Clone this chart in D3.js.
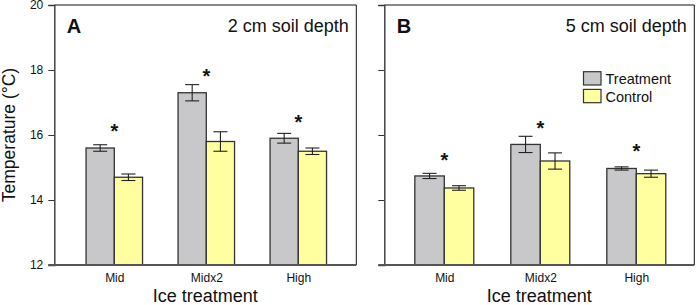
<!DOCTYPE html>
<html><head><meta charset="utf-8">
<script src="https://cdn.jsdelivr.net/npm/d3@7"></script>
<style>body{margin:0;background:#fff}svg{display:block;font-family:Arial,"Liberation Sans",sans-serif}</style>
</head><body><svg id="c" width="700" height="305"></svg>
<script>
const categories = ["Mid", "Midx2", "High"];
const series = ["Treatment", "Control"];
const yTicks = [12, 14, 16, 18, 20];
// Panel A: 2 cm soil depth
const treatA = [15.6, 17.3, 15.9];
const treatErrA = [0.1, 0.25, 0.15];
const ctrlA = [14.7, 15.8, 15.5];
const ctrlErrA = [0.1, 0.3, 0.1];
const starA = [16.27, 17.97, 16.56];
// Panel B: 5 cm soil depth
const treatB = [14.74, 15.71, 14.97];
const treatErrB = [0.08, 0.25, 0.05];
const ctrlB = [14.37, 15.2, 14.81];
const ctrlErrB = [0.07, 0.25, 0.11];
const starB = [15.38, 16.36, 15.66];

const colors = {Treatment: "#c8c8cb", Control: "#ffffa0"};
const svg = d3.select("#c");
const plotTop = 5, plotBottom = 265;
const y = d3.scaleLinear().domain([12, 20]).range([plotBottom, plotTop]);

function panel(opts) {
  const {left, right, letter, title, t, te, c, ce, stars, showLabels, legend} = opts;
  const g = svg.append("g");
  const x = d3.scalePoint().domain(categories).range([left + 60, right - 58]);
  const bw = 0.307 * x.step();
  const rows = categories.map((cat, i) => ({cat, vals: [
    {s: "Treatment", v: t[i], e: te[i]},
    {s: "Control", v: c[i], e: ce[i]}]}));
  g.append("line").attr("x1", left).attr("x2", right).attr("y1", plotTop).attr("y2", plotTop).attr("stroke", "#111").attr("stroke-width", 1);
  g.append("line").attr("x1", right).attr("x2", right).attr("y1", plotTop).attr("y2", plotBottom).attr("stroke", "#111").attr("stroke-width", 1);
  rows.forEach(r => {
    r.vals.forEach((d, j) => {
      const x0 = x(r.cat) + (j === 0 ? -bw : 0);
      g.append("rect").attr("x", x0).attr("y", y(d.v)).attr("width", bw).attr("height", y(12) - y(d.v))
        .attr("fill", colors[d.s]).attr("stroke", "#333").attr("stroke-width", 1.3);
      const cx = x0 + bw / 2;
      const eg = g.append("g").attr("stroke", "#222").attr("stroke-width", 1.1);
      eg.append("line").attr("x1", cx).attr("x2", cx).attr("y1", y(d.v + d.e)).attr("y2", y(d.v - d.e));
      eg.append("line").attr("x1", cx - 7).attr("x2", cx + 7).attr("y1", y(d.v + d.e)).attr("y2", y(d.v + d.e));
      eg.append("line").attr("x1", cx - 7).attr("x2", cx + 7).attr("y1", y(d.v - d.e)).attr("y2", y(d.v - d.e));
    });
  });
  categories.forEach((cat, i) => {
    g.append("text").attr("x", x(cat)).attr("y", y(stars[i]) + 11.8).attr("text-anchor", "middle")
      .attr("font-size", 20).attr("font-weight", "bold").attr("fill", "#111").text("*");
  });
  const ya = d3.axisLeft(y).tickValues(yTicks).tickSize(6).tickPadding(5)
    .tickFormat(showLabels ? d3.format("d") : () => "");
  const yg = g.append("g").attr("transform", `translate(${left},0)`).call(ya);
  yg.select(".domain").attr("stroke", "#444").attr("stroke-width", 1.5);
  yg.selectAll(".tick line").attr("stroke", "#333");
  yg.selectAll("text").attr("font-size", 12).attr("fill", "#111").attr("font-family", "Arial, 'Liberation Sans', sans-serif");
  const xa = d3.axisBottom(x).tickSize(0).tickPadding(8);
  const xg = g.append("g").attr("transform", `translate(0,${plotBottom})`).call(xa);
  xg.select(".domain").attr("d", `M${left - 6},0H${right}`).attr("stroke", "#555").attr("stroke-width", 1.8);
  xg.selectAll("text").attr("font-size", 12).attr("fill", "#111").attr("font-family", "Arial, 'Liberation Sans', sans-serif");
  g.append("text").attr("x", (left + right) / 2).attr("y", 301.5).attr("text-anchor", "middle")
    .attr("font-size", 18).attr("fill", "#111").text("Ice treatment");
  g.append("text").attr("x", left + 12.5).attr("y", 32.7).attr("font-size", 20).attr("font-weight", "bold").attr("fill", "#111").text(letter);
  g.append("text").attr("x", right - 7.6).attr("y", 32).attr("text-anchor", "end").attr("font-size", 18).attr("fill", "#111").text(title);
  if (legend) {
    series.forEach((s, i) => {
      const ly = 71.7 + i * 17.7;
      g.append("rect").attr("x", 583.5).attr("y", ly).attr("width", 17.5).attr("height", 13.3)
        .attr("fill", colors[s]).attr("stroke", "#333").attr("stroke-width", 1.2);
      g.append("text").attr("x", 605.5).attr("y", ly + 12.5).attr("font-size", 14.5).attr("fill", "#111").text(s);
    });
  }
}

panel({left: 54.3, right: 356.3, letter: "A", title: "2 cm soil depth", t: treatA, te: treatErrA, c: ctrlA, ce: ctrlErrA, stars: starA, showLabels: true, legend: false});
panel({left: 384.3, right: 694.3, letter: "B", title: "5 cm soil depth", t: treatB, te: treatErrB, c: ctrlB, ce: ctrlErrB, stars: starB, showLabels: false, legend: true});

svg.append("text").attr("transform", "translate(14.5,135) rotate(-90)").attr("text-anchor", "middle")
  .attr("font-size", 17.5).attr("fill", "#111").text("Temperature (°C)");
</script>
</body></html>
